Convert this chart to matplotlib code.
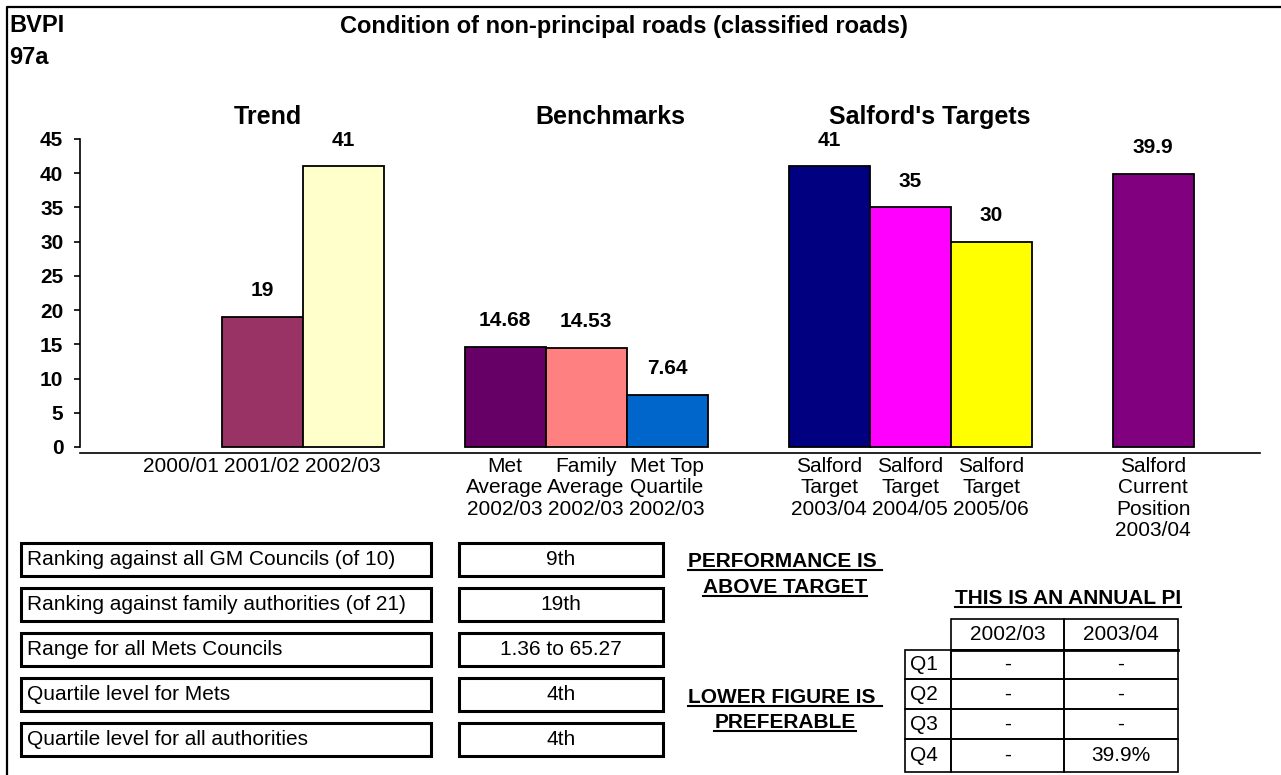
import numpy as np
import matplotlib
matplotlib.use("Agg")
import matplotlib.pyplot as plt
from matplotlib.patches import Rectangle
from matplotlib.lines import Line2D

plt.rcParams['font.family'] = ['Liberation Sans', 'DejaVu Sans']

# --- data ---
group_titles = ['Trend', 'Benchmarks', "Salford's Targets"]
categories = [
    ['2000/01', '2001/02', '2002/03'],
    ['Met\nAverage\n2002/03', 'Family\nAverage\n2002/03', 'Met Top\nQuartile\n2002/03'],
    ['Salford\nTarget\n2003/04', 'Salford\nTarget\n2004/05', 'Salford\nTarget\n2005/06'],
    ['Salford\nCurrent\nPosition\n2003/04'],
]
values = [
    [np.nan, 19, 41],
    [14.68, 14.53, 7.64],
    [41, 35, 30],
    [39.9],
]
value_labels = [
    ['', '19', '41'],
    ['14.68', '14.53', '7.64'],
    ['41', '35', '30'],
    ['39.9'],
]
colors = [
    ['#FFFFFF', '#993366', '#FFFFCC'],
    ['#660066', '#FF8080', '#0066CC'],
    ['#000080', '#FF00FF', '#FFFF00'],
    ['#800080'],
]

info_labels = ['Ranking against all GM Councils (of 10)',
               'Ranking against family authorities (of 21)',
               'Range for all Mets Councils',
               'Quartile level for Mets',
               'Quartile level for all authorities']
info_values = ['9th', '19th', '1.36 to 65.27', '4th', '4th']

pi_years = ['2002/03', '2003/04']
pi_quartiles = ['Q1', 'Q2', 'Q3', 'Q4']
pi_table = [['-', '-'], ['-', '-'], ['-', '-'], ['-', '39.9%']]

W, H = 1281, 775
fig = plt.figure(figsize=(W / 100, H / 100), dpi=100)


def fx(x):
    return x / W


def fy(y):
    return 1 - y / H


# --- bar chart ---
ax = fig.add_axes([fx(80), fy(453), (1260 - 80) / W, (453 - 139) / H])

pos, labs, vals, txts, cols = [], [], [], [], []
x0 = 0
for g in range(len(categories)):
    for i in range(len(categories[g])):
        pos.append(x0 + i)
        labs.append(categories[g][i])
        vals.append(values[g][i])
        txts.append(value_labels[g][i])
        cols.append(colors[g][i])
    x0 += len(categories[g]) + 1

pos = np.array(pos, dtype=float)
vals = np.array(vals, dtype=float)
ok = ~np.isnan(vals)
ax.bar(pos[ok], vals[ok], width=1.0, color=np.array(cols)[ok],
       edgecolor='black', linewidth=1.3, zorder=3)
for p, v, t in zip(pos[ok], vals[ok], np.array(txts)[ok]):
    ax.annotate(t, (p, v), xytext=(0, 18.7), textcoords='offset points',
                ha='center', va='center', fontsize=15, fontweight='bold')

ax.set_xlim(-1.247, 13.32)
ax.set_ylim(-0.877, 45)
ax.set_yticks(np.arange(0, 46, 5))
ax.set_xticks(pos, labs, fontsize=15, linespacing=1.15)
ax.tick_params(axis='x', length=0, pad=3)
ax.tick_params(axis='y', length=4, width=1.2, pad=8, labelsize=15)
for lb in ax.get_yticklabels():
    lb.set_fontweight('bold')
for s in ['top', 'right']:
    ax.spines[s].set_visible(False)
ax.spines['left'].set_bounds(0, 45)
ax.spines['left'].set_linewidth(1.2)
ax.spines['bottom'].set_linewidth(1.2)

# --- titles ---
fig.text(fx(9), fy(26), 'BVPI', fontsize=17, fontweight='bold', va='center')
fig.text(fx(9), fy(57), '97a', fontsize=17, fontweight='bold', va='center')
fig.text(fx(624), fy(26), 'Condition of non-principal roads (classified roads)',
         fontsize=17, fontweight='bold', ha='center', va='center')
for t, x in zip(group_titles, [268, 610, 930]):
    fig.text(fx(x), fy(117), t, fontsize=18, fontweight='bold', ha='center', va='center')

# outer frame (left and top edges)
fig.add_artist(Line2D([fx(7), fx(7), fx(W)], [fy(H), fy(7), fy(7)],
                      color='black', lw=1.6, transform=fig.transFigure))

# --- info boxes ---
for i, (lab, val) in enumerate(zip(info_labels, info_values)):
    top = 543 + 45 * i
    for (l, r) in [(21, 431), (459, 663)]:
        fig.add_artist(Rectangle((fx(l), fy(top + 33)), (r - l) / W, 33 / H,
                                 transform=fig.transFigure, fill=False,
                                 edgecolor='black', lw=2.2))
    fig.text(fx(27), fy(top + 16.5), lab, fontsize=15, va='center')
    fig.text(fx(561), fy(top + 16.5), val, fontsize=15, ha='center', va='center')

renderer = fig.canvas.get_renderer()


def underlined(x, ybase, s):
    t = fig.text(fx(x), fy(ybase), s, fontsize=15, fontweight='bold',
                 ha='center', va='baseline')
    bb = t.get_window_extent(renderer)
    fig.add_artist(Line2D([bb.x0 / W, bb.x1 / W], [fy(ybase + 3), fy(ybase + 3)],
                          color='black', lw=1.5, transform=fig.transFigure))


underlined(785, 567, 'PERFORMANCE IS ')
underlined(785, 593, 'ABOVE TARGET')
underlined(785, 703, 'LOWER FIGURE IS ')
underlined(785, 728, 'PREFERABLE')
underlined(1068, 604, 'THIS IS AN ANNUAL PI')

# --- quartile table ---
col_x = [905, 951, 1064, 1178]
row_y = [619, 650, 679, 709, 739, 772]


def cell(l, r, t, b, lw=1.2):
    fig.add_artist(Rectangle((fx(l), fy(b)), (r - l) / W, (b - t) / H,
                             transform=fig.transFigure, fill=False,
                             edgecolor='black', lw=lw))


for j, yr in enumerate(pi_years):
    cell(col_x[j + 1], col_x[j + 2], row_y[0], row_y[1])
    fig.text(fx((col_x[j + 1] + col_x[j + 2]) / 2), fy((row_y[0] + row_y[1]) / 2), yr,
             fontsize=15, ha='center', va='center')
fig.add_artist(Line2D([fx(col_x[1]), fx(col_x[3])], [fy(row_y[1]), fy(row_y[1])],
                      color='black', lw=2.0, transform=fig.transFigure))
for i, q in enumerate(pi_quartiles):
    t, b = row_y[i + 1], row_y[i + 2]
    cell(col_x[0], col_x[1], t, b)
    fig.text(fx(col_x[0] + 5), fy((t + b) / 2), q, fontsize=15, va='center')
    for j in range(2):
        cell(col_x[j + 1], col_x[j + 2], t, b)
        fig.text(fx((col_x[j + 1] + col_x[j + 2]) / 2), fy((t + b) / 2), pi_table[i][j],
                 fontsize=15, ha='center', va='center')

fig.savefig('out.png', dpi=100)
